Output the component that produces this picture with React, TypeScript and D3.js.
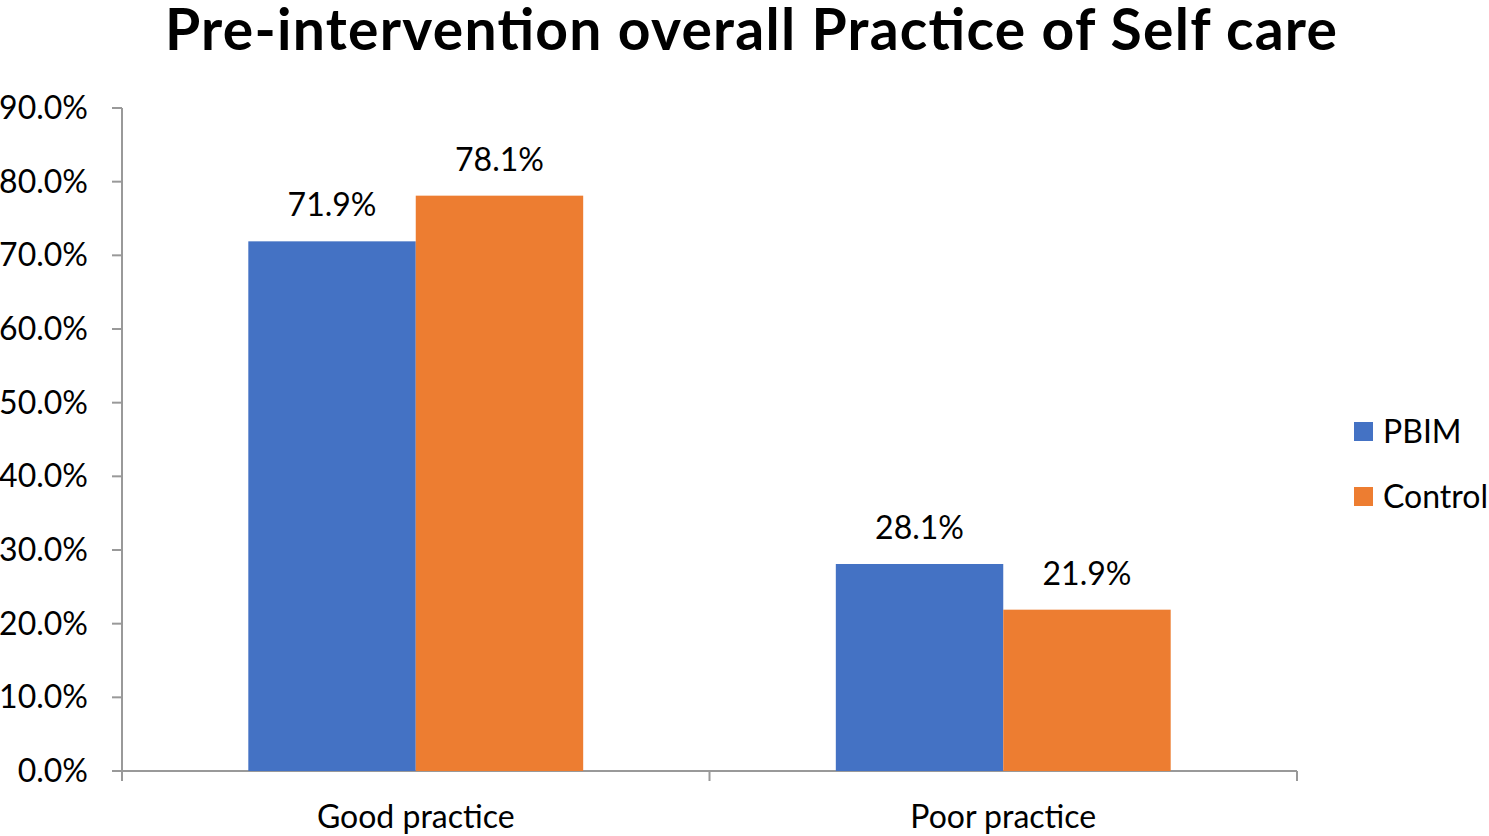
import React from "react";
import * as d3 from "d3";

const categories = ["Good practice", "Poor practice"];
const seriesNames = ["PBIM", "Control"];
const pbimValues = [71.9, 28.1];
const controlValues = [78.1, 21.9];
const yTicks = [0, 10, 20, 30, 40, 50, 60, 70, 80, 90];
const colors = ["#4472C4", "#ED7D31"];
const titleText = "Pre-intervention overall Practice of Self care";

export default function App() {
  const W = 1489, H = 836;
  const left = 122, right = 1297, top = 108, bottom = 771;
  const font = "Lato, 'Noto Sans', sans-serif";
  const fs = 32;
  const x = d3.scaleBand<string>().domain(categories).range([left, right]).paddingInner(0).paddingOuter(0);
  const y = d3.scaleLinear().domain([0, 90]).range([bottom, top]);
  const barW = x.bandwidth() * 0.285;
  const x1 = d3.scaleBand<string>().domain(seriesNames).range([0, barW * 2]);
  const series = [pbimValues, controlValues];
  const axisColor = "#999999";
  return (
    <svg width={W} height={H} style={{ position: "absolute", left: 0, top: 0, background: "#fff" }}>
      <text x={751} y={50} textAnchor="middle" fontFamily={font} fontWeight={700} fontSize={57} textLength={1172} lengthAdjust="spacing" fill="#000">{titleText}</text>
      {yTicks.map((t) => (
        <g key={t}>
          <line x1={left - 10} x2={left} y1={y(t)} y2={y(t)} stroke={axisColor} strokeWidth={2} />
          <text x={88} y={y(t) + 11} textAnchor="end" fontFamily={font} fontSize={fs} fill="#000">{t.toFixed(1) + "%"}</text>
        </g>
      ))}
      <line x1={left} x2={left} y1={top} y2={bottom + 10} stroke={axisColor} strokeWidth={2} />
      <line x1={left} x2={right} y1={bottom} y2={bottom} stroke={axisColor} strokeWidth={2} />
      {[...categories.map((c) => x(c)!), right].map((px, i) => (
        <line key={i} x1={px} x2={px} y1={bottom} y2={bottom + 10} stroke={axisColor} strokeWidth={2} />
      ))}
      {categories.map((c, ci) => {
        const cx = x(c)! + x.bandwidth() / 2;
        return (
          <g key={c}>
            {seriesNames.map((s, si) => {
              const v = series[si][ci];
              const bx = cx - barW + x1(s)!;
              return (
                <g key={s}>
                  <rect x={bx} y={y(v)} width={x1.bandwidth()} height={bottom - y(v)} fill={colors[si]} />
                  <text x={bx + x1.bandwidth() / 2} y={y(v) - 25} textAnchor="middle" fontFamily={font} fontSize={fs} fill="#000">{v.toFixed(1) + "%"}</text>
                </g>
              );
            })}
            <text x={cx} y={828} textAnchor="middle" fontFamily={font} fontSize={fs} fill="#000">{c}</text>
          </g>
        );
      })}
      {seriesNames.map((s, i) => (
        <g key={s}>
          <rect x={1354} y={422 + i * 65} width={19} height={19} fill={colors[i]} />
          <text x={1383} y={443 + i * 65} fontFamily={font} fontSize={fs} fill="#000">{s}</text>
        </g>
      ))}
    </svg>
  );
}
